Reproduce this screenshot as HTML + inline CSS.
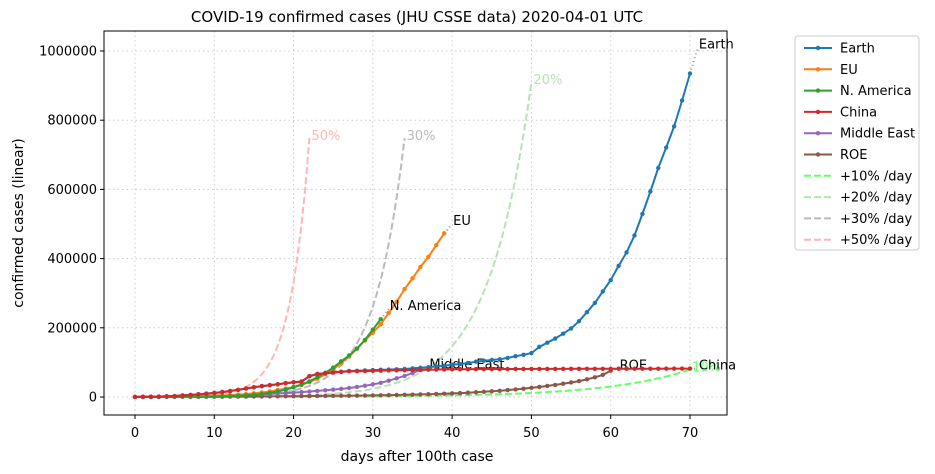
<!DOCTYPE html>
<html><head><meta charset="utf-8"><style>
body{margin:0;background:#fff;}
svg{display:block;font-family:"DejaVu Sans","Liberation Sans",sans-serif;}
</style></head><body>
<svg id="c" width="935" height="474" xmlns="http://www.w3.org/2000/svg"></svg>
<script>
const earth=[0.3,0.6,0.9,1.3,2,2.8,4.6,6,8,9.8,11.9,14.5,17.4,20.7,24.6,28.3,31.5,34.4,37.1,40.2,42.8,44.8,60.4,66.9,69,71.3,73.3,75.2,75.7,76.7,77.8,78.8,79.3,80.1,81,82.6,84.3,86,88.4,90.3,93,95.3,98,102,105,107,109,113,118,122,127,145,157,169,183,198,219,245,272,305,338,379,418,467,529,594,662,721,782,857,935];
const china=[0.3,0.6,0.9,1.3,2,2.8,4.5,5.9,7.7,9.6,11.7,14.3,17.2,20.4,24.3,28,31.1,34.1,36.8,39.8,42.3,44.3,59.8,66.3,68.3,70.4,72.4,74.1,74.5,75,75.5,76.2,76.8,77.1,77.6,78,78.5,78.8,79.3,79.8,80,80.2,80.4,80.6,80.7,80.8,80.9,80.9,81,81,81.1,81.1,81.2,81.2,81.3,81.4,81.4,81.5,81.5,81.6,81.6,81.7,81.7,81.8,81.8,81.9,81.9,82,82,82.1,82.2];
const eu=[0.2,0.3,0.4,0.5,0.7,0.9,1.2,1.6,2.1,2.7,3.4,4.3,5.4,6.8,8.5,10.6,13,16,20,24,29,35,43,53,66,80,97,117,140,163,186,210,243,275,312,343,376,405,439,473];
const nam=[0.1,0.1,0.12,0.15,0.2,0.3,0.4,0.5,0.7,0.9,1.3,1.8,2.5,3.5,4.8,6.5,9,12,16,21,28,36,45,57,70,85,103,120,140,165,195,225];
const mideast=[0.1,0.2,0.3,0.5,0.8,1,1.3,1.6,2,2.5,3,3.6,4.3,5,5.8,6.7,7.7,8.8,10,11.3,12.7,14.2,15.8,17.5,19.3,21.3,23.5,26,29,32.5,36.5,41,47,54,61,69,78];
const roe=[0.1,0.15,0.2,0.3,0.35,0.4,0.5,0.6,0.7,0.8,0.9,1,1.1,1.2,1.3,1.5,1.6,1.8,2,2.2,2.4,2.6,2.8,3,3.2,3.4,3.6,3.8,4,4.3,4.6,5,5.4,5.8,6.3,6.8,7.4,8,8.7,9.5,10.4,11.4,12.5,13.7,15,16.5,18,20,22,24,26.5,29,32,35,38.5,42,46,51,57,64,76];
const seriesNames=["Earth","EU","N. America","China","Middle East","ROE"];
const seriesLabelValues=[1010,500,255,82,85,82];
const rates=[0.10,0.20,0.30,0.50];
const rateEndDays=[70,50,34,22];
const rateNames=["+10% /day","+20% /day","+30% /day","+50% /day"];
const rateLabels=["10%","20%","30%","50%"];
const xTicks=[0,10,20,30,40,50,60,70];
const yTicks=[0,200000,400000,600000,800000,1000000];

const svg=document.getElementById('c');
const NS="http://www.w3.org/2000/svg";
const L=104,R=727,T=31,B=415;
const X=d=>135+d*(690-135)/70;
const Y=v=>397-v*(397-51)/1000000;
function el(tag,attrs,parent){const e=document.createElementNS(NS,tag);for(const k in attrs)e.setAttribute(k,attrs[k]);(parent||svg).appendChild(e);return e;}
function txt(s,attrs,parent){const e=el('text',attrs,parent);e.textContent=s;return e;}

const grid=el('g',{});


xTicks.forEach(t=>el('line',{x1:X(t),x2:X(t),y1:T,y2:B,stroke:'#ccc','stroke-dasharray':'1.5,3','stroke-width':1},grid));
yTicks.forEach(t=>el('line',{x1:L,x2:R,y1:Y(t),y2:Y(t),stroke:'#ccc','stroke-dasharray':'1.5,3','stroke-width':1},grid));

const colors=["#1f77b4","#ff7f0e","#2ca02c","#d62728","#9467bd","#8c564b"];
const rateColors=["#66ff66","#b5e3b5","#bbbbbb","#ffb6b6"];
const data=[earth,eu,nam,china,mideast,roe];

const rg=el('g',{});


rates.forEach((r,i)=>{
  let pts=[];
  for(let d=0;d<=rateEndDays[i];d+=0.5){pts.push(X(d).toFixed(1)+','+Y(100*Math.pow(1+r,d)).toFixed(1));}
  const p=el('polyline',{points:pts.join(' '),fill:'none',stroke:rateColors[i],'stroke-width':2,'stroke-dasharray':'7,3'},rg);
  
  
  const end=100*Math.pow(1+r,rateEndDays[i]);
  const t=txt(rateLabels[i],{x:X(rateEndDays[i])+2,y:Y(end)+2,fill:rateColors[i],'font-size':13},rg);
  
  
});

const draw=[5,4,1,2,0,3];
draw.forEach(i=>{
  const s=data[i];
  const g=el('g',{});
  
  
  const last=s.length-1;
  el('line',{x1:X(last),y1:Y(s[last]*1000),x2:X(last+1),y2:Y(seriesLabelValues[i]*1000),stroke:'#999','stroke-width':2,'stroke-dasharray':'1,3'},g);
  el('polyline',{points:s.map((v,d)=>X(d).toFixed(1)+','+Y(v*1000).toFixed(1)).join(' '),fill:'none',stroke:colors[i],'stroke-width':2},g);
  s.forEach((v,d)=>el('circle',{cx:X(d),cy:Y(v*1000),r:2.2,fill:colors[i]},g));
  const t=txt(seriesNames[i],{x:X(last+1)+1,y:Y(seriesLabelValues[i]*1000)+1,fill:'#000','font-size':13},g);
  
  
});

const f=el('rect',{x:L,y:T,width:R-L,height:B-T,fill:'none',stroke:'#000','stroke-width':1});


const xa=el('g',{});


xTicks.forEach(t=>{el('line',{x1:X(t),x2:X(t),y1:B,y2:B+4,stroke:'#000'},xa);txt(t,{x:X(t),y:B+22,'text-anchor':'middle','font-size':13},xa);});
const ya=el('g',{});


yTicks.forEach(t=>{el('line',{x1:L-4,x2:L,y1:Y(t),y2:Y(t),stroke:'#000'},ya);txt(t,{x:L-7,y:Y(t)+4.5,'text-anchor':'end','font-size':13},ya);});
const ti=txt("COVID-19 confirmed cases (JHU CSSE data) 2020-04-01 UTC",{x:417,y:22,'text-anchor':'middle','font-size':15});

const xl=txt("days after 100th case",{x:417,y:461,'text-anchor':'middle','font-size':14});

const yl=txt("confirmed cases (linear)",{x:0,y:0,'text-anchor':'middle','font-size':14,transform:'translate(23,223) rotate(-90)'});


const lg=el('g',{});


el('rect',{x:795,y:36,width:124,height:214,rx:3,fill:'#fff',stroke:'#ccc'},lg);
const names=seriesNames.concat(rateNames);
names.forEach((n,i)=>{
  const y=48+i*21.3;
  const e=el('g',{},lg);
  
  
  if(i<6){el('line',{x1:804,x2:832,y1:y,y2:y,stroke:colors[i],'stroke-width':2},e);el('circle',{cx:818,cy:y,r:2.2,fill:colors[i]},e);}
  else el('line',{x1:804,x2:832,y1:y,y2:y,stroke:rateColors[i-6],'stroke-width':2,'stroke-dasharray':'7,3'},e);
  txt(n,{x:840,y:y+4.5,'font-size':13},e);
});
</script>
</body></html>
